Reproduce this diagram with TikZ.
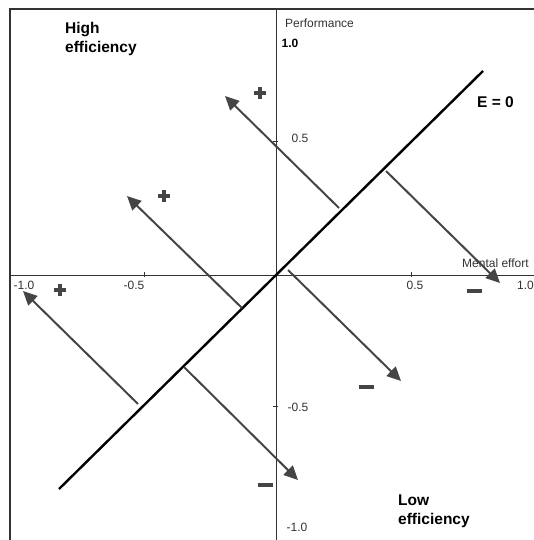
\documentclass[tikz,border=0pt]{standalone}
\usepackage{fontspec}
\setmainfont{Liberation Sans}
\usetikzlibrary{arrows.meta}
\definecolor{arrowgray}{HTML}{454545}
\definecolor{axisgray}{HTML}{333333}
\newcommand{\plussign}{\rule[4.25pt]{12pt}{3.5pt}\llap{\rule{3.5pt}{12pt}\hspace{4.25pt}}}
\newcommand{\minussign}{\rule{15pt}{4pt}}
\tikzset{
  frameline/.style={line width=1.3pt, draw=axisgray},
  axisline/.style={line width=1pt, draw=axisgray},
  tickline/.style={line width=0.8pt, draw=axisgray},
  zeroline/.style={line width=2.4pt, draw=black},
  effarrow/.style={line width=2pt, draw=arrowgray, -{Triangle[length=14pt,width=13pt]}},
  ticklabel/.style={font=\fontsize{12}{14}\selectfont, text=axisgray, inner sep=0pt},
  boldlabel/.style={font=\fontsize{15.5}{19}\selectfont\bfseries, align=left, inner sep=0pt, anchor=west},
  signlabel/.style={text=arrowgray, color=arrowgray, inner sep=0pt}
}
\begin{document}
\begin{tikzpicture}[x=1pt,y=-1pt]
\useasboundingbox (0,0) rectangle (534,540);
% frame
\coordinate (ftl) at (10,9);
\coordinate (ftr) at (534,9);
\coordinate (fbl) at (10,540);
\draw[frameline] (ftr) -- (ftl) -- (fbl);
% axes
\coordinate (vtop) at (276,9);
\coordinate (vbot) at (276,540);
\coordinate (hleft) at (10,275);
\coordinate (hright) at (534,275);
\draw[axisline] (vtop) -- (vbot);
\draw[axisline] (hleft) -- (hright);
% ticks
\draw[tickline] (144,272) -- (144,277);
\draw[tickline] (411,272) -- (411,277);
\draw[tickline] (273,141) -- (278,141);
\draw[tickline] (273,406) -- (278,406);
% tick labels
\node[ticklabel] (xm10) at (24,285) {-1.0};
\node[ticklabel] (xm05) at (134,285) {-0.5};
\node[ticklabel] (xp05) at (415,285) {0.5};
\node[ticklabel, anchor=east] (xp10) at (534,285) {1.0};
\node[ticklabel] (yp05) at (300,138) {0.5};
\node[ticklabel] (ym05) at (298,407) {-0.5};
\node[ticklabel] (ym10) at (297,527) {-1.0};
\node[ticklabel, font=\fontsize{12}{14}\selectfont\bfseries, text=black] (yp10) at (290,43) {1.0};
\node[ticklabel, anchor=west] (perf) at (285,23) {Performance};
\node[ticklabel, anchor=west] (ment) at (462,263) {Mental effort};
% E = 0 line
\coordinate (ez1) at (59,489);
\coordinate (ez2) at (483,71);
\draw[zeroline] (ez1) -- (ez2);
\node[boldlabel] (ezlab) at (477,102) {E = 0};
% arrows
\coordinate (a1t) at (339,208); \coordinate (a1h) at (225,96);
\coordinate (a2t) at (242,308); \coordinate (a2h) at (127,196);
\coordinate (a3t) at (138,404); \coordinate (a3h) at (23,291);
\coordinate (a4t) at (386,171); \coordinate (a4h) at (500,283);
\coordinate (a5t) at (288,270); \coordinate (a5h) at (401,381);
\coordinate (a6t) at (184,367); \coordinate (a6h) at (298,480);
\draw[effarrow] (a1t) -- (a1h);
\draw[effarrow] (a2t) -- (a2h);
\draw[effarrow] (a3t) -- (a3h);
\draw[effarrow] (a4t) -- (a4h);
\draw[effarrow] (a5t) -- (a5h);
\draw[effarrow] (a6t) -- (a6h);
% signs
\node[signlabel] (p1) at (260,93) {\plussign};
\node[signlabel] (p2) at (164,196) {\plussign};
\node[signlabel] (p3) at (60,290) {\plussign};
\node[signlabel] (m1) at (474,291) {\minussign};
\node[signlabel] (m2) at (366,387) {\minussign};
\node[signlabel] (m3) at (265,485) {\minussign};
% corner labels
\node[boldlabel] (high) at (65,39) {High\\efficiency};
\node[boldlabel] (low) at (398,511) {Low\\efficiency};
\end{tikzpicture}
\end{document}
